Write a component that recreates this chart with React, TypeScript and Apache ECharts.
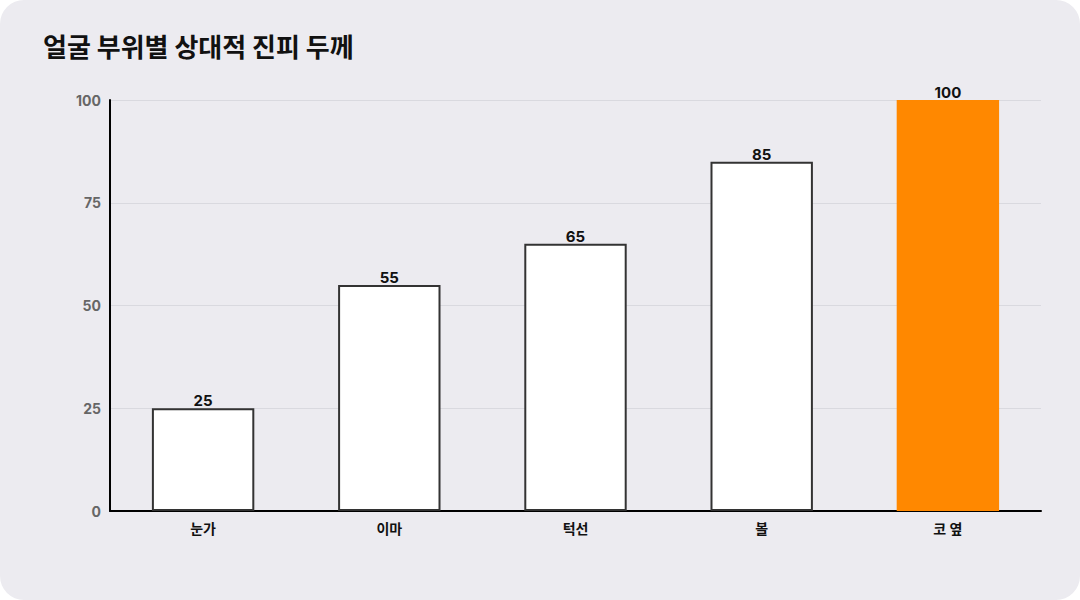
import React, { useEffect, useRef } from "react";
import * as echarts from "echarts";

const categories = ["눈가", "이마", "턱선", "볼", "코 옆"];
const values = [25, 55, 65, 85, 100];
const highlightIndex = 4;
const titleText = "얼굴 부위별 상대적 진피 두께";

export default function App() {
  const ref = useRef<HTMLDivElement>(null);
  useEffect(() => {
    if (!ref.current) return;
    const chart = echarts.init(ref.current, undefined, { renderer: "svg" });
    const font = "Inter, 'Noto Sans CJK KR', sans-serif";
    chart.setOption({
      animation: false,
      backgroundColor: "transparent",
      textStyle: { fontFamily: font },
      title: {
        text: titleText,
        left: 38,
        top: 27,
        textStyle: { fontSize: 26, fontWeight: "bold", color: "#111", fontFamily: "'Noto Sans CJK KR', sans-serif" },
      },
      grid: { left: 110, right: 39, top: 100, bottom: 89, containLabel: false },
      xAxis: {
        type: "category",
        data: categories,
        axisLine: { show: true, lineStyle: { color: "#000", width: 2 } },
        axisTick: { show: false },
        axisLabel: { color: "#111", fontSize: 14, fontWeight: "bold", margin: 10, fontFamily: font },
      },
      yAxis: {
        type: "value",
        min: 0,
        max: 100,
        interval: 25,
        axisLine: { show: true, lineStyle: { color: "#000", width: 2 } },
        axisTick: { show: false },
        axisLabel: { color: "#666", fontSize: 14, fontWeight: "bold", margin: 9, fontFamily: font },
        splitLine: { show: true, lineStyle: { color: "#D9D9DF", width: 1 } },
      },
      series: [
        {
          type: "bar",
          barWidth: "55%",
          data: values.map((v, i) =>
            i === highlightIndex
              ? { value: v, itemStyle: { color: "#FF8800", borderWidth: 0 } }
              : { value: v, itemStyle: { color: "#FFFFFF", borderColor: "#333333", borderWidth: 2 } }
          ),
          label: {
            show: true,
            position: "top",
            distance: 0,
            color: "#111",
            fontSize: 15,
            fontWeight: "bold",
            fontFamily: font,
          },
        },
      ],
    });
    return () => chart.dispose();
  }, []);
  return (
    <div style={{ position: "fixed", left: 0, top: 0, width: 1080, height: 600, background: "#FFFFFF" }}>
      <div
        style={{
          position: "absolute",
          left: 0,
          top: 0,
          width: 1080,
          height: 600,
          background: "#ECEBF0",
          borderRadius: 24,
          overflow: "hidden",
        }}
      >
        <div ref={ref} style={{ width: 1080, height: 600 }} />
      </div>
    </div>
  );
}
